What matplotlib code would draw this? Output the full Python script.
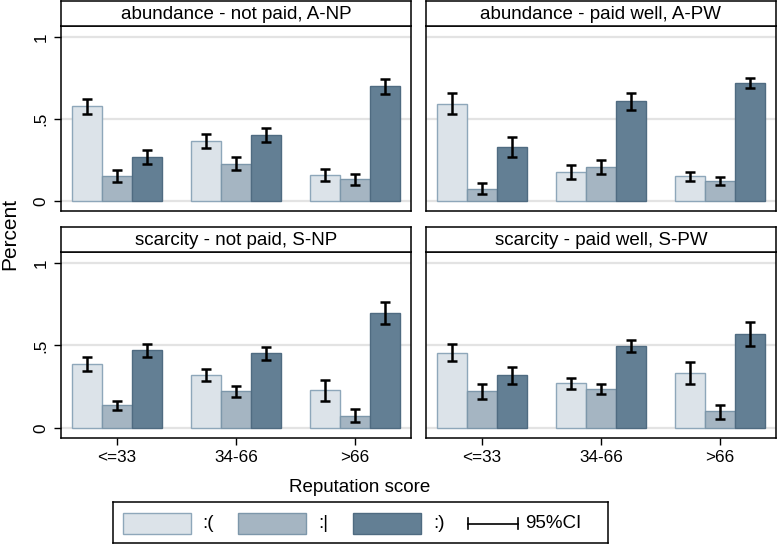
import matplotlib
matplotlib.use("Agg")
import matplotlib.pyplot as plt
from matplotlib.patches import Rectangle
from matplotlib.lines import Line2D
import numpy as np

plt.rcParams['font.family'] = ['Liberation Sans', 'DejaVu Sans']

categories = ["<=33", "34-66", ">66"]
series_names = [":(", ":|", ":)"]
panel_titles = ["abundance - not paid, A-NP", "abundance - paid well, A-PW",
                "scarcity - not paid, S-NP", "scarcity - paid well, S-PW"]

# values per panel: rows = series (:( , :| , :) ), columns = categories
anp_val = [[0.577, 0.366, 0.161], [0.152, 0.228, 0.132], [0.268, 0.402, 0.703]]
anp_lo = [[0.533, 0.321, 0.122], [0.116, 0.191, 0.098], [0.226, 0.358, 0.654]]
anp_hi = [[0.622, 0.409, 0.193], [0.187, 0.266, 0.163], [0.309, 0.445, 0.746]]

apw_val = [[0.591, 0.179, 0.152], [0.075, 0.207, 0.122], [0.329, 0.610, 0.722]]
apw_lo = [[0.528, 0.136, 0.124], [0.041, 0.163, 0.098], [0.268, 0.553, 0.689]]
apw_hi = [[0.657, 0.222, 0.175], [0.110, 0.252, 0.144], [0.390, 0.661, 0.752]]

snp_val = [[0.390, 0.323, 0.228], [0.138, 0.222, 0.075], [0.472, 0.453, 0.699]]
snp_lo = [[0.348, 0.287, 0.165], [0.108, 0.189, 0.035], [0.431, 0.415, 0.628]]
snp_hi = [[0.431, 0.360, 0.291], [0.165, 0.254, 0.112], [0.512, 0.492, 0.764]]

spw_val = [[0.457, 0.270, 0.331], [0.222, 0.234, 0.100], [0.319, 0.496, 0.569]]
spw_lo = [[0.404, 0.236, 0.264], [0.177, 0.203, 0.055], [0.268, 0.459, 0.494]]
spw_hi = [[0.510, 0.303, 0.402], [0.268, 0.264, 0.140], [0.370, 0.535, 0.642]]

yticks = [0, 0.5, 1]
ytick_labels = ["0", ".5", "1"]

fills = ["#DCE3E9", "#A5B5C2", "#637F94"]
edges = ["#8EA7BA", "#7D97AA", "#4F6B81"]

W, H = 778, 544
fig = plt.figure(figsize=(W / 100, H / 100), dpi=100)

def px_axes(x0, y0, x1, y1):
    return fig.add_axes([x0 / W, 1 - y1 / H, (x1 - x0) / W, (y1 - y0) / H])

panels = [
    (anp_val, anp_lo, anp_hi, 61, 26, 411, 211, True, False),
    (apw_val, apw_lo, apw_hi, 426, 26, 776, 211, False, False),
    (snp_val, snp_lo, snp_hi, 61, 252, 411, 438, True, True),
    (spw_val, spw_lo, spw_hi, 426, 252, 776, 438, False, True),
]

FS = 13.5
TFS = 12.3
x = np.arange(len(categories))
bw = 0.252
for i, (val, lo, hi, x0, y0, x1, y1, showy, showx) in enumerate(panels):
    ax = px_axes(x0, y0, x1, y1)
    for g in yticks:
        ax.axhline(g, color="#E3E3E3", lw=1.6, zorder=0)
    for s in range(3):
        xs = x + (s - 1) * bw
        v = np.array(val[s]); l = np.array(lo[s]); h = np.array(hi[s])
        ax.bar(xs, v, width=bw, color=fills[s], edgecolor=edges[s], linewidth=1.0, zorder=2)
        ax.errorbar(xs, v, yerr=[v - l, h - v], fmt="none", ecolor="black",
                    elinewidth=1.8, capsize=3.8, capthick=1.8, zorder=3)
    ax.set_xlim(-0.47, 2.47)
    ax.set_ylim(-0.061, 1.067)
    ax.set_yticks(yticks)
    if showy:
        ax.set_yticklabels(ytick_labels, rotation=90, va="center", fontsize=TFS)
    else:
        ax.tick_params(axis="y", left=False, labelleft=False)
    ax.set_xticks(x)
    if showx:
        ax.set_xticklabels(categories, fontsize=TFS)
    else:
        ax.tick_params(axis="x", bottom=False, labelbottom=False)
    ax.tick_params(direction="out", length=5, width=1, color="black", pad=4)
    for sp in ax.spines.values():
        sp.set_color("black"); sp.set_linewidth(1.1)
    # strip
    sax = px_axes(x0, y0 - 25, x1, y0)
    sax.set_xticks([]); sax.set_yticks([])
    for sp in sax.spines.values():
        sp.set_color("black"); sp.set_linewidth(1.1)
    sax.text(0.5, 0.45, panel_titles[i], ha="center", va="center", fontsize=FS,
             transform=sax.transAxes)

fig.text(10 / W, 1 - 234 / H, "Percent", rotation=90, ha="center", va="center", fontsize=15)
fig.text(360 / W, 1 - 487 / H, "Reputation score", ha="center", va="center", fontsize=FS)

# legend
lax = px_axes(113, 502, 608, 543)
lax.set_xlim(113, 608); lax.set_ylim(543, 502)
lax.set_xticks([]); lax.set_yticks([])
for sp in lax.spines.values():
    sp.set_color("black"); sp.set_linewidth(1.1)
patch_x = [123, 238, 353]
label_x = [202, 318, 433]
for s in range(3):
    lax.add_patch(Rectangle((patch_x[s], 513), 68, 21, facecolor=fills[s],
                            edgecolor=edges[s], lw=1.0))
    lax.text(label_x[s], 523.5, series_names[s], ha="left", va="center", fontsize=FS)
lax.add_line(Line2D([468, 518], [523.5, 523.5], color="black", lw=1.2))
lax.add_line(Line2D([468, 468], [518, 529], color="black", lw=1.2))
lax.add_line(Line2D([518, 518], [518, 529], color="black", lw=1.2))
lax.text(525, 523.5, "95%CI", ha="left", va="center", fontsize=FS)

fig.savefig("out.png", dpi=100)
